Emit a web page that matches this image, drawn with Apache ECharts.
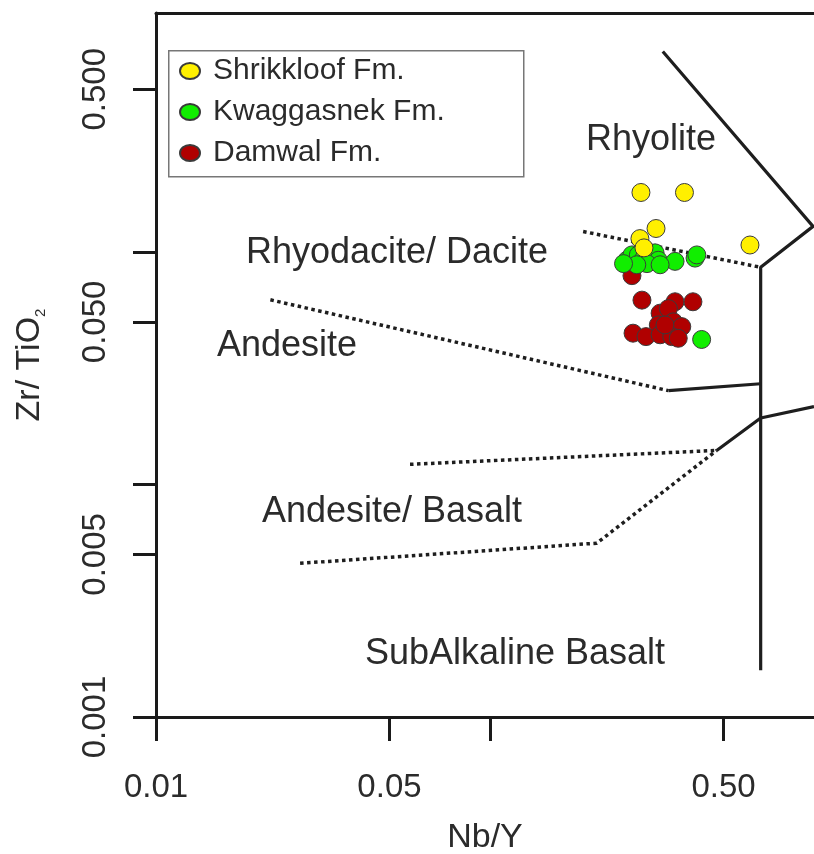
<!DOCTYPE html>
<html>
<head>
<meta charset="utf-8">
<script src="https://cdn.jsdelivr.net/npm/echarts@6/dist/echarts.min.js"></script>
<style>
  html, body { margin: 0; padding: 0; background: #fff; }
  #chart { width: 814px; height: 854px; }
</style>
</head>
<body>
<div id="chart"></div>
<script>
var FONT = '"Liberation Sans", Arial, sans-serif'
var INK = '#2b2b2b'

// axis ticks and labels
var xTicks = [0.01, 0.05, 0.1, 0.5]
var xLabels = [0.01, 0.05, 0.5]
var yTicks = [0.001, 0.005, 0.01, 0.05, 0.1, 0.5]
var yLabels = [0.001, 0.005, 0.05, 0.5]

// samples, [Nb/Y, Zr/TiO2]
var shrikkloof = [
  [0.283, 0.180], [0.382, 0.180], [0.314, 0.126], [0.281, 0.114],
  [0.289, 0.104], [0.600, 0.107]
]
var kwaggasnek = [
  [0.257, 0.092], [0.266, 0.097], [0.278, 0.097], [0.288, 0.093],
  [0.301, 0.097], [0.312, 0.099], [0.319, 0.092], [0.295, 0.089],
  [0.275, 0.088], [0.251, 0.089], [0.358, 0.091], [0.411, 0.094],
  [0.416, 0.097], [0.323, 0.088], [0.430, 0.042]
]
var damwal = [
  [0.266, 0.079], [0.285, 0.062], [0.358, 0.061], [0.405, 0.061],
  [0.323, 0.0545], [0.342, 0.057], [0.354, 0.050], [0.319, 0.0485],
  [0.375, 0.0477], [0.268, 0.0447], [0.293, 0.0432], [0.323, 0.044],
  [0.350, 0.0432], [0.366, 0.0425], [0.334, 0.0485]
]

// field boundaries (Winchester & Floyd)
var solidLines = [
  [[0.329, 0.727], [0.927, 0.1287], [0.646, 0.0858], [0.646, 0.00159]],
  [[0.342, 0.0253], [0.646, 0.0271]],
  [[0.477, 0.0140], [0.646, 0.0193], [0.933, 0.0216]]
]
var dottedLines = [
  [[0.190, 0.1223], [0.646, 0.0858]],
  [[0.0220, 0.0622], [0.342, 0.0253]],
  [[0.0576, 0.0122], [0.477, 0.0140]],
  [[0.0270, 0.00458], [0.2087, 0.00559], [0.477, 0.0140]]
]

var fields = [
  { text: 'Rhyolite', x: 651, y: 140 },
  { text: 'Rhyodacite/ Dacite', x: 397, y: 253 },
  { text: 'Andesite', x: 287, y: 346 },
  { text: 'Andesite/ Basalt', x: 392, y: 512 },
  { text: 'SubAlkaline Basalt', x: 515, y: 654 }
]

var chart = echarts.init(document.getElementById('chart'))

var series = []
solidLines.forEach(function (pts) {
  series.push({
    type: 'line', data: pts, symbol: 'none', silent: true, z: 1,
    lineStyle: { color: '#1e1e1e', width: 3.2, type: 'solid' }
  })
})
dottedLines.forEach(function (pts) {
  series.push({
    type: 'line', data: pts, symbol: 'none', silent: true, z: 1,
    lineStyle: { color: '#1e1e1e', width: 3.5, type: [3.5, 3.5] }
  })
})

function samples(name, data, color) {
  return {
    name: name, type: 'scatter', data: data, symbol: 'circle', symbolSize: 18, z: 3,
    itemStyle: { color: color, opacity: 1, borderColor: '#3a3a3a', borderWidth: 1 }
  }
}
series.push(samples('Damwal Fm.', damwal, '#b00000'))
series.push(samples('Kwaggasnek Fm.', kwaggasnek, '#11ee00'))
series.push(samples('Shrikkloof Fm.', shrikkloof, '#fff000'))

var ellipse = 'path://M0,8a10,8 0 1,0 20,0a10,8 0 1,0 -20,0z'

var option = {
  animation: false,
  textStyle: { fontFamily: FONT },
  grid: { left: 156, top: 13, right: 0, bottom: 137, outerBoundsMode: 'none', containLabel: false },
  legend: {
    orient: 'vertical', left: 174, top: 51, itemGap: 11,
    itemWidth: 20, itemHeight: 16,
    data: [
      { name: 'Shrikkloof Fm.', icon: ellipse },
      { name: 'Kwaggasnek Fm.', icon: ellipse },
      { name: 'Damwal Fm.', icon: ellipse }
    ],
    textStyle: { fontSize: 30, color: INK, fontFamily: FONT, lineHeight: 30, padding: [0, 0, 0, 8] },
    selectedMode: false
  },
  xAxis: [{
    type: 'log', min: 0.01, max: 0.933,
    name: 'Nb/Y', nameLocation: 'middle', nameGap: 104,
    nameTextStyle: { fontSize: 34, color: INK, fontFamily: FONT },
    axisLine: { lineStyle: { color: '#1a1a1a', width: 3 } },
    axisTick: { show: true, length: 24, customValues: xTicks, lineStyle: { width: 3, color: '#1a1a1a' } },
    axisLabel: {
      customValues: xLabels, margin: 54, fontSize: 33, color: INK, fontFamily: FONT,
      formatter: function (v) { return (+v).toFixed(2) }
    },
    minorTick: { show: false }, splitLine: { show: false }
  }, {
    type: 'log', min: 0.01, max: 0.933, position: 'top',
    axisLine: { lineStyle: { color: '#1a1a1a', width: 3 } },
    axisTick: { show: false }, axisLabel: { show: false }, splitLine: { show: false }
  }],
  yAxis: {
    type: 'log', min: 0.001, max: 1.064,
    name: '{n|Zr/ TiO}{s|2}', nameLocation: 'middle', nameGap: 108,
    nameTextStyle: {
      fontSize: 34, color: INK, fontFamily: FONT,
      rich: {
        n: { fontSize: 34, color: INK, fontFamily: FONT },
        s: { fontSize: 15, color: INK, fontFamily: FONT, padding: [22, 0, 0, 0] }
      }
    },
    axisLine: { lineStyle: { color: '#1a1a1a', width: 3 } },
    axisTick: { show: true, length: 23, customValues: yTicks, lineStyle: { width: 3, color: '#1a1a1a' } },
    axisLabel: {
      customValues: yLabels, rotate: 90, margin: 44, fontSize: 33, color: INK, fontFamily: FONT,
      formatter: function (v) { return (+v).toFixed(3) }
    },
    minorTick: { show: false }, splitLine: { show: false }
  },
  graphic: [{
    type: 'rect', left: 168, top: 50, z: 0,
    shape: { width: 355, height: 126 },
    style: { fill: '#fff', stroke: '#777', lineWidth: 1.5 }
  }].concat(fields.map(function (f) {
    return {
      type: 'text', x: f.x, y: f.y, z: 2,
      style: {
        text: f.text, fill: INK, font: '36px ' + FONT,
        textAlign: 'center', textVerticalAlign: 'middle'
      }
    }
  })),
  series: series
}

chart.setOption(option)
</script>
</body>
</html>
